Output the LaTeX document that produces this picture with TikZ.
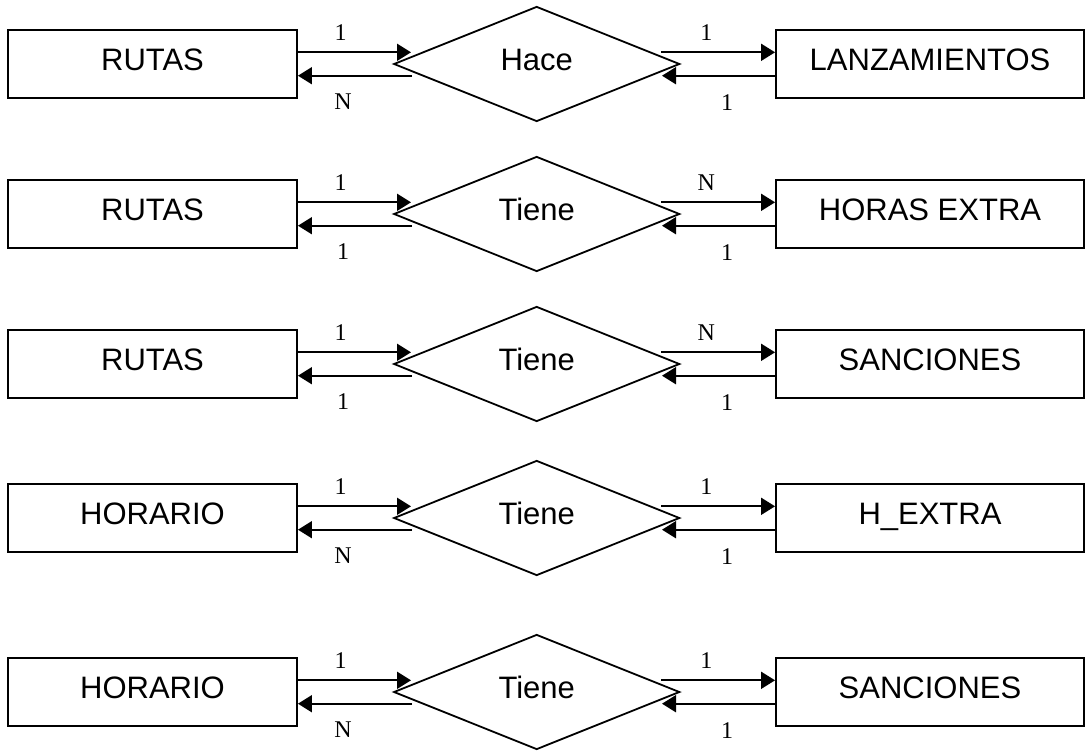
\documentclass[tikz,border=0pt]{standalone}
\usepackage{fontspec}
\setmainfont{Liberation Serif}
\newfontfamily\arialf{Liberation Sans}
\usetikzlibrary{shapes.geometric,arrows.meta}
\begin{document}
\begin{tikzpicture}[x=1pt,y=-1pt,
  entbase/.style={draw,line width=1.9pt,minimum height=68pt,inner sep=0pt,
    font=\arialf\fontsize{31}{36}\selectfont,text height=22pt,text depth=10pt},
  entl/.style={entbase,minimum width=289pt},
  entr/.style={entbase,minimum width=308pt},
  rel/.style={draw,diamond,line width=1.8pt,minimum width=286pt,minimum height=115pt,inner sep=0pt,
    font=\arialf\fontsize{31}{36}\selectfont,text height=22pt,text depth=10pt},
  conn/.style={line width=1.8pt,-{Triangle[length=14pt,width=17pt]}},
  card/.style={font=\fontsize{24}{28}\selectfont,inner sep=0pt}]
\useasboundingbox (0,0) rectangle (1089,750);
\foreach \i/\yy/\ea/\rn/\eb/\ka/\kb/\kc/\kd in {
  1/64/RUTAS/Hace/LANZAMIENTOS/1/N/1/1,
  2/214/RUTAS/Tiene/HORAS EXTRA/1/1/N/1,
  3/364/RUTAS/Tiene/SANCIONES/1/1/N/1,
  4/518/HORARIO/Tiene/{H\_EXTRA}/1/N/1/1,
  5/692/HORARIO/Tiene/SANCIONES/1/N/1/1}{
  \node[entl] (L\i) at (152.5,\yy) {\ea};
  \node[rel] (D\i) at (536.7,\yy) {\rn};
  \node[entr] (R\i) at (930,\yy) {\eb};
  \coordinate (la\i) at (411,\yy-11.7);
  \coordinate (lb\i) at (412,\yy+11.7);
  \coordinate (ra\i) at (661,\yy-11.7);
  \coordinate (rb\i) at (662,\yy+11.7);
  \draw[conn] (L\i.east |- la\i) -- (la\i);
  \draw[conn] (lb\i) -- (L\i.east |- lb\i);
  \draw[conn] (ra\i) -- (R\i.west |- ra\i);
  \draw[conn] (R\i.west |- rb\i) -- (rb\i);
  \node[card] (ca\i) at (340.7,\yy-31) {\ka};
  \node[card] (cb\i) at (343,\yy+38) {\kb};
  \node[card] (cc\i) at (706.3,\yy-31) {\kc};
  \node[card] (cd\i) at (727,\yy+39) {\kd};
}
\end{tikzpicture}
\end{document}
